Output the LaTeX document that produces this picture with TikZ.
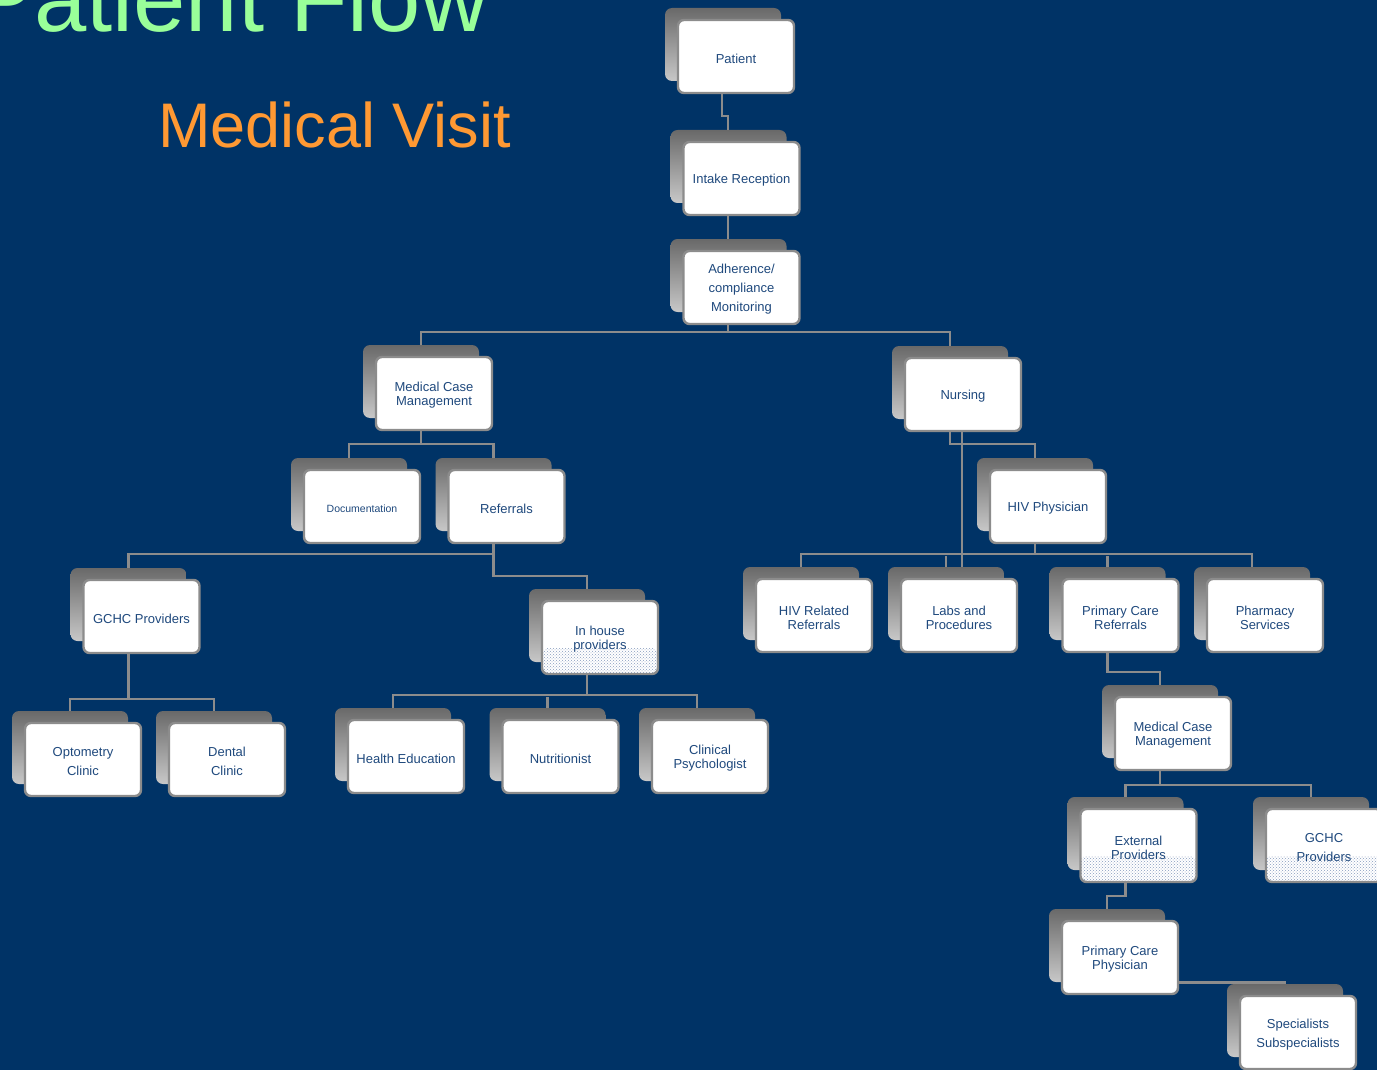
\documentclass[tikz,border=0pt]{standalone}
\usepackage{fontspec}
\setmainfont{Liberation Sans}
\usetikzlibrary{backgrounds,patterns}
\definecolor{bg}{RGB}{0,51,102}
\definecolor{txt}{RGB}{31,73,125}
\definecolor{lin}{RGB}{140,140,140}
\definecolor{shtop}{RGB}{105,105,105}
\definecolor{shbot}{RGB}{200,200,200}
\definecolor{patc}{RGB}{135,155,190}
\definecolor{ttl}{RGB}{153,255,153}
\definecolor{subt}{RGB}{255,153,51}
\tikzset{
  bx/.style={draw=lin, line width=2.4pt, fill=white, rounded corners=6pt,
    minimum width=116pt, minimum height=73pt, inner sep=0pt, outer sep=0pt},
  bxtext/.style={align=center, text=txt, inner sep=0pt, font=\fontsize{13}{14}\selectfont},
  wide/.style={font=\fontsize{13}{19}\selectfont},
  small/.style={font=\fontsize{10.5}{12}\selectfont},
  dotbottom/.style={path picture={\fill[pattern=crosshatch dots, pattern color=patc]
      ([yshift=26pt]path picture bounding box.south west) rectangle (path picture bounding box.south east);}},
  conn/.style={draw=lin, line width=2.2pt},
  shadowbox/.style={top color=shtop, bottom color=shbot, rounded corners=7pt}
}
% #1 box options, #2 name, #3 x, #4 y, #5 text options, #6 text
\newcommand\mkbox[6][]{%
  \node[bx,#1] (#2) at (#3,#4) {};
  \node[bxtext,#5] (#2-t) at ([yshift=-2pt]#2.center) {#6};
  \begin{pgfonlayer}{background}
    \shade[shadowbox] ([shift={(-13,-12)}]#2.south west) rectangle ([shift={(-13,-12)}]#2.north east);
  \end{pgfonlayer}}
\begin{document}
\begin{tikzpicture}[x=1pt,y=-1pt]
\useasboundingbox (0,0) rectangle (1377,1070);
\clip (0,0) rectangle (1377,1070);
\begin{pgfonlayer}{background}
  \fill[bg] (0,0) rectangle (1377,1070);
\end{pgfonlayer}

% titles
\node[anchor=base east, inner sep=0pt, text=ttl, font=\fontsize{94}{100}\selectfont] (title) at (489,32) {Patient Flow};
\node[anchor=base west, inner sep=0pt, text=subt, font=\fontsize{63}{70}\selectfont] (subtitle) at (158,148) {Medical Visit};

% boxes
\mkbox{pat}{736}{56.5}{}{Patient}
\mkbox{intake}{741.5}{178.5}{}{Intake Reception}
\mkbox{adh}{741.5}{287.5}{wide}{Adherence/\\compliance\\Monitoring}
\mkbox{mcm}{434}{393.5}{}{Medical Case\\Management}
\mkbox{nurs}{963}{394.5}{}{Nursing}
\mkbox{doc}{362}{506.5}{small}{Documentation}
\mkbox{ref}{506.5}{506.5}{}{Referrals}
\mkbox{hivp}{1048}{506.5}{}{HIV Physician}
\mkbox{gchc}{141.5}{616.5}{}{GCHC Providers}
\mkbox[dotbottom]{inh}{600}{637.5}{}{In house\\providers}
\mkbox{hivr}{814}{615.5}{}{HIV Related\\Referrals}
\mkbox{labs}{959}{615.5}{}{Labs and\\Procedures}
\mkbox{pcr}{1120.5}{615.5}{}{Primary Care\\Referrals}
\mkbox{pharm}{1265}{615.5}{}{Pharmacy\\Services}
\mkbox{opt}{83}{759.5}{wide}{Optometry\\Clinic}
\mkbox{dent}{227}{759.5}{wide}{Dental\\Clinic}
\mkbox{hed}{406}{756.5}{}{Health Education}
\mkbox{nutr}{560.5}{756.5}{}{Nutritionist}
\mkbox{psy}{710}{756.5}{}{Clinical\\Psychologist}
\mkbox{mcm2}{1173}{733.5}{}{Medical Case\\Management}
\mkbox[dotbottom]{ext}{1138.5}{845.5}{}{External\\Providers}
\mkbox[dotbottom]{gchc2}{1324}{845.5}{wide}{GCHC\\Providers}
\mkbox{pcp}{1120}{957.5}{}{Primary Care\\Physician}
\mkbox{spec}{1298}{1032.5}{wide}{Specialists\\Subspecialists}

% connectors
\draw[conn] ([xshift=-14pt]pat.south) -- ++(0,23) -| ([xshift=-13.5pt,yshift=12pt]intake.north);
\draw[conn] ([xshift=-13.5pt]intake.south) -- ([xshift=-13.5pt,yshift=12pt]adh.north);
\draw[conn] ([xshift=-13.5pt]adh.south) -- ++(0,8) coordinate (j1);
\draw[conn] ([xshift=-13pt,yshift=12pt]mcm.north) |- (j1) -| ([xshift=-13pt,yshift=12pt]nurs.north);
\draw[conn] ([xshift=-13pt]mcm.south) -- ++(0,14) coordinate (j2);
\draw[conn] ([xshift=-13pt,yshift=12pt]doc.north) |- (j2) -| ([xshift=-13pt,yshift=12pt]ref.north);
\draw[conn] ([xshift=-13pt]ref.south) -- ++(0,11) coordinate (j3) -- ++(0,22) -| ([xshift=-13pt,yshift=12pt]inh.north);
\draw[conn] (j3) -| ([xshift=-13pt,yshift=12pt]gchc.north);
\draw[conn] ([xshift=-13pt]gchc.south) -- ++(0,46) coordinate (j4);
\draw[conn] ([xshift=-13pt,yshift=12pt]opt.north) |- (j4) -| ([xshift=-13pt,yshift=12pt]dent.north);
\draw[conn] ([xshift=-13pt]inh.south) -- ++(0,21) coordinate (j5);
\draw[conn] ([xshift=-13pt,yshift=12pt]hed.north) |- (j5) -| ([xshift=-13pt,yshift=12pt]psy.north);
\draw[conn] ([xshift=-13pt,yshift=12pt]nutr.north) -- ++(0,-11);
\draw[conn] ([xshift=-13pt]nurs.south) -- ++(0,13) -| ([xshift=-13pt,yshift=12pt]hivp.north);
\coordinate (nS) at ([xshift=-1pt]nurs.south);
\coordinate (labsT) at ([yshift=12pt]labs.north);
\draw[conn] (nS) -- (nS |- labsT);
\draw[conn] ([xshift=-13pt]hivp.south) -- ++(0,11) coordinate (j6);
\draw[conn] ([xshift=-13pt,yshift=12pt]hivr.north) |- (j6) -| ([xshift=-13pt,yshift=12pt]pharm.north);
\draw[conn] ([xshift=-13pt,yshift=12pt]labs.north) -- ++(0,-11);
\draw[conn] ([xshift=-13pt,yshift=12pt]pcr.north) -- ++(0,-11);
\draw[conn] ([xshift=-13pt]pcr.south) -- ++(0,20) -| ([xshift=-13pt,yshift=12pt]mcm2.north);
\draw[conn] ([xshift=-13pt]mcm2.south) -- ++(0,15) coordinate (j7);
\draw[conn] ([xshift=-13pt,yshift=12pt]ext.north) |- (j7) -| ([xshift=-13pt,yshift=12pt]gchc2.north);
\draw[conn] ([xshift=-13pt]ext.south) -- ++(0,14) -| ([xshift=-13pt,yshift=12pt]pcp.north);
\draw[conn] ([yshift=-25pt]pcp.east) -| ([xshift=-13pt,yshift=12pt]spec.north);
\end{tikzpicture}
\end{document}
